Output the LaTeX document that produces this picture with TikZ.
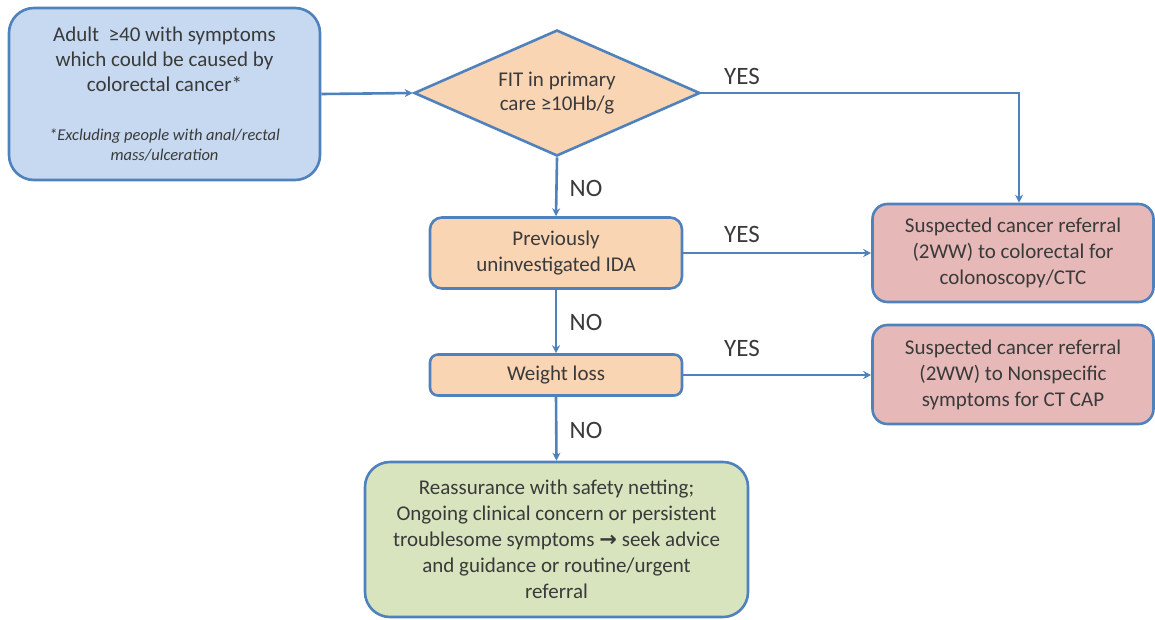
\documentclass[tikz,border=0pt]{standalone}
\usepackage{fontspec}
\setmainfont{Carlito}
\newfontfamily\dejavub{DejaVu Sans Bold}
\usetikzlibrary{shapes.geometric,arrows.meta,calc}
\definecolor{edge}{HTML}{4F81BD}
\definecolor{bluefill}{HTML}{C6D9F0}
\definecolor{orangefill}{HTML}{FAD5B4}
\definecolor{pinkfill}{HTML}{E6B9B8}
\definecolor{greenfill}{HTML}{D7E4BD}
\definecolor{txt}{HTML}{3A3A3A}
\tikzset{
  box/.style={draw=edge, line width=2.6pt, rectangle, align=center, text=txt, inner sep=2pt, font=\fontsize{21}{26}\selectfont},
  decision/.style={draw=edge, line width=2.6pt, diamond, shape aspect=2.27, align=center, text=txt, inner sep=0pt, font=\fontsize{21}{24}\selectfont},
  conn/.style={draw=edge, line width=2.6pt, -{Stealth[length=8pt,width=8pt]}},
  lbl/.style={text=txt, font=\fontsize{25}{28}\selectfont, inner sep=0pt}
}
\begin{document}
\begin{tikzpicture}[x=1pt,y=-1pt]
\useasboundingbox (0,0) rectangle (1155,619);
\node[box, fill=bluefill, rounded corners=25pt, minimum width=311pt, minimum height=172pt, font=\fontsize{21}{25}\selectfont] (start) at (164.5,94)
  {Adult\ \ ≥40 with symptoms\\ which could be caused by\\ colorectal cancer*\\[24pt]
   \parbox[t]{300pt}{\centering\fontsize{16.5}{19.5}\selectfont\itshape *Excluding people with anal/rectal\\ mass/ulceration}};
\node[decision, fill=orangefill, minimum width=286pt, minimum height=126pt] (fit) at (557,93)
  {FIT in primary\\ care ≥10Hb/g};
\node[box, fill=orangefill, rounded corners=12pt, minimum width=252pt, minimum height=71pt] (ida) at (556,253)
  {Previously\\ uninvestigated IDA};
\node[box, fill=orangefill, rounded corners=8pt, minimum width=252pt, minimum height=41pt] (wl) at (556,375)
  {Weight loss};
\node[box, fill=pinkfill, rounded corners=15pt, minimum width=281pt, minimum height=98pt] (col) at (1013,253)
  {Suspected cancer referral\\ (2WW) to colorectal for\\ colonoscopy/CTC};
\node[box, fill=pinkfill, rounded corners=15pt, minimum width=281pt, minimum height=99pt] (ns) at (1013,374.5)
  {Suspected cancer referral\\ (2WW) to Nonspecific\\ symptoms for CT CAP};
\node[box, fill=greenfill, rounded corners=25pt, minimum width=383pt, minimum height=155pt] (re) at (556.5,539.5)
  {Reassurance with safety netting;\\ Ongoing clinical concern or persistent\\ troublesome symptoms {\dejavub\fontsize{21}{21}\selectfont →} seek advice\\ and guidance or routine/urgent\\ referral};

\coordinate (colin) at ($(col.north)+(6,0)$);
\draw[conn] (start.east) -- (fit.west);
\draw[conn] (fit.east) -| (colin);
\draw[conn] (fit.south) -- (ida.north);
\draw[conn] (ida.east) -- (ida.east -| col.west);
\draw[conn] (ida.south) -- (wl.north);
\draw[conn] (wl.east) -- (wl.east -| ns.west);
\draw[conn] (wl.south) -- (re.north);

\node[lbl] (y1) at (742,76) {YES};
\node[lbl] (y2) at (742,234) {YES};
\node[lbl] (y3) at (742,348) {YES};
\node[lbl] (n1) at (586,188) {NO};
\node[lbl] (n2) at (586,322) {NO};
\node[lbl] (n3) at (586,430) {NO};
\end{tikzpicture}
\end{document}
